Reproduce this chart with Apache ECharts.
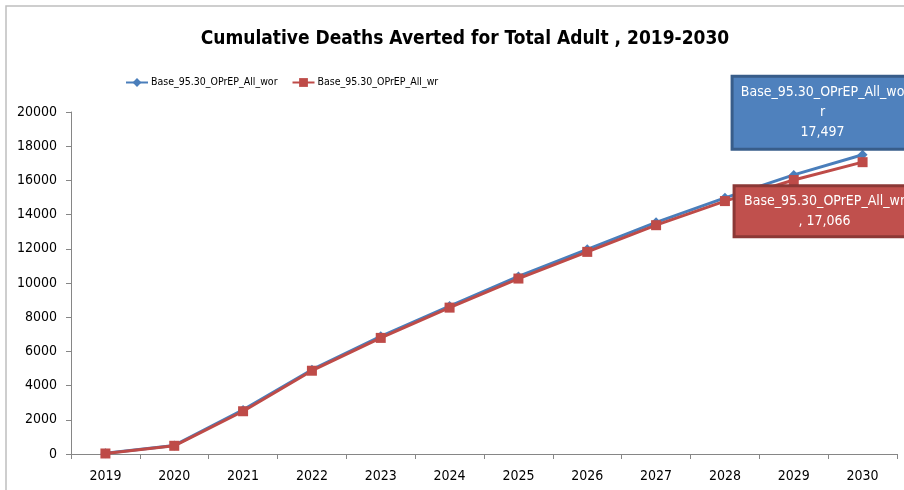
<!DOCTYPE html>
<html>
<head>
<meta charset="utf-8">
<script src="https://cdn.jsdelivr.net/npm/echarts@6/dist/echarts.min.js"></script>
<style>
  html, body { margin: 0; padding: 0; background: #fff; }
  #main { width: 904px; height: 490px; }
</style>
</head>
<body>
<div id="main"></div>
<script>
  // chart data
  var years = ['2019', '2020', '2021', '2022', '2023', '2024', '2025', '2026', '2027', '2028', '2029', '2030']
  var seriesNames = ['Base_95.30_OPrEP_All_wor', 'Base_95.30_OPrEP_All_wr']
  var worValues = [40, 500, 2580, 4930, 6880, 8650, 10380, 11970, 13550, 14980, 16320, 17497]
  var wrValues = [30, 480, 2500, 4870, 6790, 8560, 10260, 11820, 13380, 14790, 16020, 17066]
  var yTicks = [0, 2000, 4000, 6000, 8000, 10000, 12000, 14000, 16000, 18000, 20000]

  var font = '"Liberation Sans Narrow", "DejaVu Sans Condensed", sans-serif'
  var blue = '#4A7EBB'
  var red = '#BE4B48'

  var chart = echarts.init(document.getElementById('main'))

  // excel-style data label only on the last point
  function withEndLabel(values, label) {
    return values.map(function(v, i) {
      if (i !== values.length - 1) return v
      return { value: v, label: label }
    })
  }

  var worLabel = {
    show: true,
    position: 'inside',
    offset: [-40, -42],
    align: 'center',
    verticalAlign: 'middle',
    width: 170,
    lineHeight: 20,
    padding: [5, 4],
    color: '#fff',
    fontFamily: font,
    fontSize: 14,
    backgroundColor: '#4F81BD',
    borderColor: '#385D8A',
    borderWidth: 3,
    formatter: function(p) {
      var n = p.seriesName
      return n.slice(0, -1) + '\n' + n.slice(-1) + '\n' + p.value.toLocaleString('en-US')
    }
  }
  var wrLabel = {
    show: true,
    position: 'inside',
    offset: [-38, 49],
    align: 'center',
    verticalAlign: 'middle',
    width: 170,
    lineHeight: 20,
    padding: [4, 4],
    color: '#fff',
    fontFamily: font,
    fontSize: 14,
    backgroundColor: '#C0504D',
    borderColor: '#8C3836',
    borderWidth: 3,
    formatter: function(p) {
      return p.seriesName + '\n, ' + p.value.toLocaleString('en-US')
    }
  }

  chart.setOption({
    animation: false,
    textStyle: { fontFamily: font },
    graphic: [{
      type: 'rect',
      shape: { x: 6, y: 6, width: 920, height: 500 },
      style: { fill: 'none', stroke: '#bfbfbf', lineWidth: 1.5 },
      silent: true
    }],
    title: {
      text: 'Cumulative Deaths Averted for Total Adult , 2019-2030',
      left: 460,
      textAlign: 'center',
      top: 25,
      textStyle: { fontFamily: font, fontSize: 19, fontWeight: 'bold', color: '#000' }
    },
    legend: {
      left: 120,
      top: 72,
      itemWidth: 22,
      itemHeight: 11,
      itemGap: 14,
      textStyle: { fontFamily: font, fontSize: 10.5, color: '#000', padding: [0, 0, 0, -2] },
      data: seriesNames
    },
    grid: { left: 71, right: 7, top: 112, bottom: 36 },
    xAxis: {
      type: 'category',
      data: years,
      boundaryGap: true,
      axisLine: { lineStyle: { color: '#868686', width: 1 } },
      axisTick: { show: true, length: 5, lineStyle: { color: '#868686' } },
      axisLabel: { color: '#000', fontSize: 14, fontFamily: font, margin: 15 }
    },
    yAxis: {
      type: 'value',
      min: yTicks[0],
      max: yTicks[yTicks.length - 1],
      interval: 2000,
      splitLine: { show: false },
      axisLine: { show: true, lineStyle: { color: '#868686', width: 1 } },
      axisTick: { show: true, length: 5, lineStyle: { color: '#868686' } },
      axisLabel: {
        color: '#000', fontSize: 14, fontFamily: font, margin: 14,
        formatter: function(v) { return String(v) }
      }
    },
    series: [
      {
        name: seriesNames[0],
        type: 'line',
        data: withEndLabel(worValues, worLabel),
        symbol: 'diamond',
        symbolSize: 10,
        lineStyle: { color: blue, width: 3 },
        itemStyle: { color: blue },
        z: 2
      },
      {
        name: seriesNames[1],
        type: 'line',
        data: withEndLabel(wrValues, wrLabel),
        symbol: 'rect',
        symbolSize: 10,
        lineStyle: { color: red, width: 3 },
        itemStyle: { color: red },
        z: 3
      }
    ]
  })
</script>
</body>
</html>
